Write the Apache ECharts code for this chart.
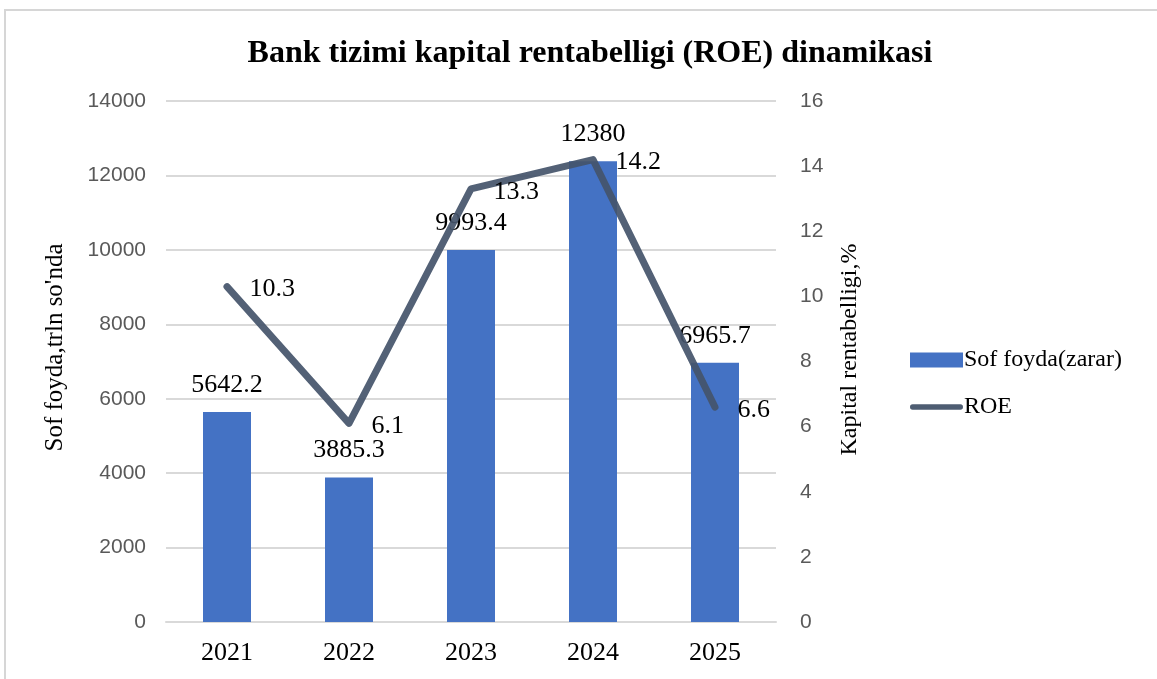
<!DOCTYPE html>
<html>
<head>
<meta charset="utf-8">
<script src="https://cdn.jsdelivr.net/npm/echarts@6/dist/echarts.min.js"></script>
<style>
  html, body { margin: 0; padding: 0; background: #fff; }
  #chart { width: 1157px; height: 679px; }
</style>
</head>
<body>
<div id="chart"></div>
<script>
const years = ['2021', '2022', '2023', '2024', '2025'];
const netProfit = [5642.2, 3885.3, 9993.4, 12380, 6965.7];
const roe = [10.3, 6.1, 13.3, 14.2, 6.6];

const serif = '"Liberation Serif", "Times New Roman", serif';
const sans = '"Liberation Sans", Arial, sans-serif';

const chart = echarts.init(document.getElementById('chart'));

chart.setOption({
  backgroundColor: '#fff',
  animation: false,
  graphic: [{
    type: 'rect',
    shape: { x: 5, y: 10, width: 1200, height: 700 },
    style: { fill: 'none', stroke: '#d6d6d6', lineWidth: 2 },
    silent: true
  }],
  title: {
    text: 'Bank tizimi kapital rentabelligi (ROE) dinamikasi',
    left: 585, top: 33, textAlign: 'center',
    textStyle: { fontFamily: serif, fontSize: 32, fontWeight: 'bold', color: '#000' }
  },
  legend: {
    orient: 'vertical',
    left: 905, top: 343,
    itemWidth: 53, itemHeight: 15,
    itemGap: 23,
    textStyle: { fontFamily: serif, fontSize: 24, color: '#000', lineHeight: 22, padding: [0, 0, 0, -4] },
    data: [
      { name: 'Sof foyda(zarar)', icon: 'rect', itemStyle: { color: '#4472C4' } },
      { name: 'ROE', icon: 'path://M3,0 L57,0 A3,3 0 0 1 57,6 L3,6 A3,3 0 0 1 3,0 Z', itemStyle: { color: '#44546A', opacity: 0.95 } }
    ]
  },
  grid: { left: 166, right: 381, top: 101, bottom: 57 },
  xAxis: {
    type: 'category',
    data: years,
    axisTick: { show: false },
    axisLine: { lineStyle: { color: '#d9d9d9', width: 2 } },
    axisLabel: { fontFamily: serif, fontSize: 26, color: '#000', margin: 18 }
  },
  yAxis: [{
    type: 'value',
    min: 0, max: 14000, interval: 2000,
    name: "Sof foyda,trln so'nda",
    nameLocation: 'middle', nameGap: 98,
    nameTextStyle: { fontFamily: serif, fontSize: 25, color: '#000', padding: [0, 0, 0, 28] },
    axisLabel: { fontFamily: sans, fontSize: 21, color: '#595959', margin: 20, formatter: v => String(v) },
    splitLine: { lineStyle: { color: '#d9d9d9', width: 2 } }
  }, {
    type: 'value',
    min: 0, max: 16, interval: 2,
    name: 'Kapital rentabelligi,%',
    nameLocation: 'middle', nameGap: 62,
    nameTextStyle: { fontFamily: serif, fontSize: 24, color: '#000', padding: [0, 0, 0, 24] },
    axisLabel: { fontFamily: sans, fontSize: 21, color: '#595959', margin: 24 },
    splitLine: { show: false }
  }],
  series: [{
    name: 'Sof foyda(zarar)',
    type: 'bar',
    data: netProfit,
    barWidth: 48,
    z: 2,
    itemStyle: { color: '#4472C4' },
    label: {
      show: true, position: 'top', distance: 14,
      fontFamily: serif, fontSize: 26, color: '#000'
    }
  }, {
    name: 'ROE',
    type: 'line',
    yAxisIndex: 1,
    data: roe,
    symbol: 'circle',
    symbolSize: 1,
    showSymbol: true,
    z: 5,
    zlevel: 1,
    lineStyle: { color: '#44546A', width: 7, opacity: 0.92, cap: 'round', join: 'round' },
    itemStyle: { color: 'rgba(0,0,0,0)' },
    label: {
      show: true, position: 'right', distance: 22, offset: [0, 3],
      fontFamily: serif, fontSize: 26, color: '#000'
    }
  }]
});
</script>
</body>
</html>
